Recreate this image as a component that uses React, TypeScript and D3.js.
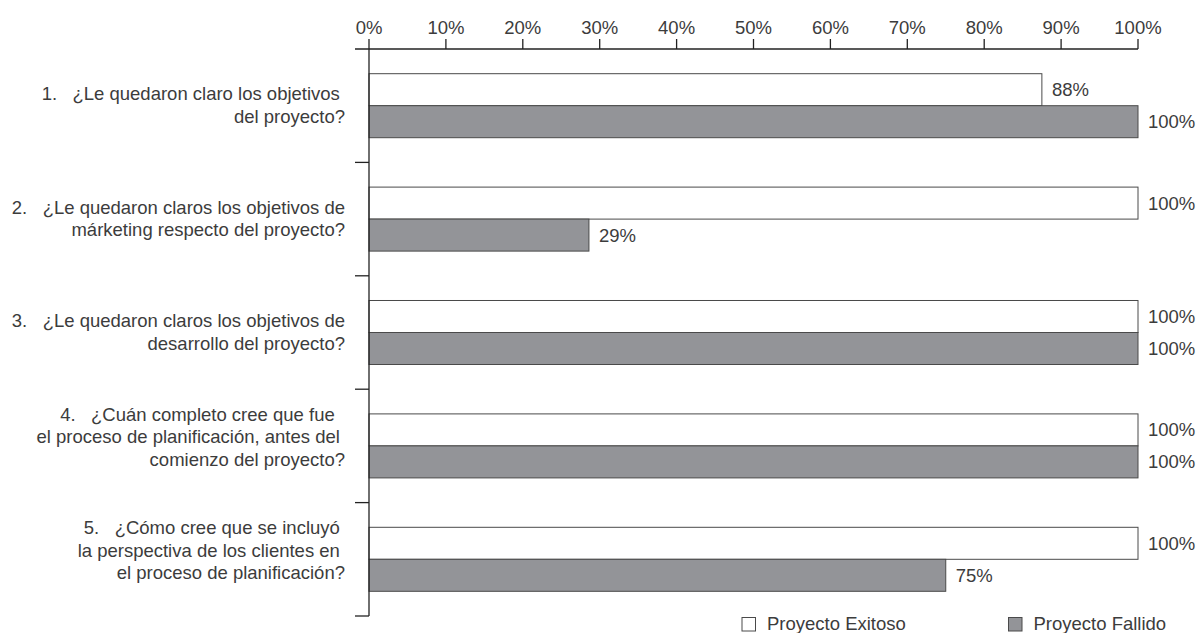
import React, { useEffect } from "react";
import * as d3 from "d3";

const categories = [
  ["1.   ¿Le quedaron claro los objetivos ", "del proyecto?"],
  ["2.   ¿Le quedaron claros los objetivos de", "márketing respecto del proyecto?"],
  ["3.   ¿Le quedaron claros los objetivos de", "desarrollo del proyecto?"],
  ["4.   ¿Cuán completo cree que fue  ", "el proceso de planificación, antes del ", "comienzo del proyecto?"],
  ["5.   ¿Cómo cree que se incluyó ", "la perspectiva de los clientes en ", "el proceso de planificación?"],
];
const seriesNames = ["Proyecto Exitoso", "Proyecto Fallido"];
const exitoso = [87.5, 100, 100, 100, 100];
const fallido = [100, 28.6, 100, 100, 75];
const xTicks = [0, 10, 20, 30, 40, 50, 60, 70, 80, 90, 100];

const W = 1196;
const H = 633;
const FONT = "'Liberation Sans', Arial, Helvetica, sans-serif";
const FS = 18.5;
const TEXT = "#3c3c3c";
const GREY = "#939498";
const STROKE = "#4a4a4a";

export default function App() {
  useEffect(() => {
    document.body.style.margin = "0";
  }, []);

  const x0 = 369;
  const x1 = 1138;
  const yTop = 49;
  const yBot = 616;
  const x = d3.scaleLinear().domain([0, 100]).range([x0, x1]);
  const idx = categories.map((_, i) => String(i));
  const y = d3
    .scaleBand<string>()
    .domain(idx)
    .range([yTop, yBot])
    .paddingInner(0.4356)
    .paddingOuter(0.2178);
  const sub = d3.scaleBand<string>().domain(["0", "1"]).range([0, y.bandwidth()]);
  const step = y.step();
  const series = [exitoso, fallido];
  const fills = ["#ffffff", GREY];
  const fmt = (v: number) => `${Math.round(v)}%`;

  return (
    <svg width={W} height={H} style={{ display: "block", background: "#fff" }} fontFamily={FONT}>
      {/* bars */}
      {idx.map((c, i) => (
        <g key={c}>
          {series.map((s, k) => {
            const by = (y(c) as number) + (sub(String(k)) as number);
            const bh = sub.bandwidth();
            return (
              <g key={k}>
                <rect
                  x={x(0)}
                  y={by}
                  width={x(s[i]) - x(0)}
                  height={bh}
                  fill={fills[k]}
                  stroke={STROKE}
                  strokeWidth={1}
                />
                <text x={x(s[i]) + 10} y={by + bh / 2 + 6.5} fontSize={FS} fill={TEXT}>
                  {fmt(s[i])}
                </text>
              </g>
            );
          })}
        </g>
      ))}
      {/* top axis */}
      <line x1={355} x2={x1} y1={yTop} y2={yTop} stroke="#222" strokeWidth={1.3} />
      {xTicks.map((t) => (
        <g key={t}>
          <line x1={x(t)} x2={x(t)} y1={yTop - 10} y2={yTop} stroke="#222" strokeWidth={1.3} />
          <text x={x(t)} y={33.5} textAnchor="middle" fontSize={FS} fill={TEXT}>
            {t}%
          </text>
        </g>
      ))}
      {/* left axis */}
      <line x1={x0} x2={x0} y1={yTop} y2={yBot} stroke="#222" strokeWidth={1.3} />
      {idx.map((c, i) => (
        <line
          key={c}
          x1={355}
          x2={x0}
          y1={yTop + step * (i + 1)}
          y2={yTop + step * (i + 1)}
          stroke="#222"
          strokeWidth={1.3}
        />
      ))}
      {/* category labels */}
      {categories.map((lines, i) => {
        const center = yTop + step * (i + 0.5);
        const n = lines.length;
        const lh = 22.5;
        const first = center + 6 - ((n - 1) * lh) / 2 - (n === 3 ? 8.5 : 0);
        return (
          <text key={i} fontSize={FS} fill={TEXT} textAnchor="end" style={{ whiteSpace: "pre" }}>
            {lines.map((l, j) => (
              <tspan key={j} x={345} y={first + j * lh}>
                {l}
              </tspan>
            ))}
          </text>
        );
      })}
      {/* legend */}
      {seriesNames.map((name, k) => {
        const lx = k === 0 ? 742 : 1008.5;
        return (
          <g key={name}>
            <rect x={lx} y={617.5} width={13.5} height={13.5} fill={fills[k]} stroke={STROKE} strokeWidth={1} />
            <text x={lx + 25} y={630} fontSize={FS} fill={TEXT}>
              {name}
            </text>
          </g>
        );
      })}
    </svg>
  );
}
